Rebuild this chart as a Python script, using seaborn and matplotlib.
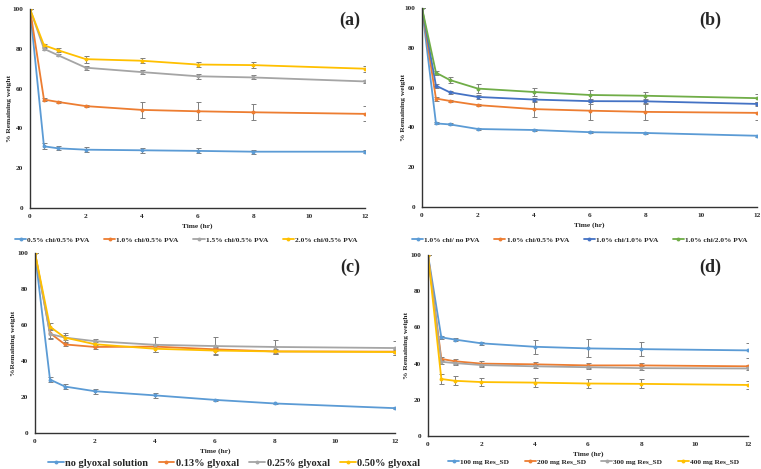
import pandas as pd
import matplotlib
matplotlib.use('Agg')
import matplotlib.pyplot as plt
import seaborn as sns
import numpy as np

sns.set_theme(style="white")
plt.rcParams['font.family'] = ['Liberation Serif', 'DejaVu Serif']
plt.rcParams['font.weight'] = 'bold'

# datos comunes
tiempos = [0, 0.5, 1, 2, 4, 6, 8, 12]

# PANEL (a)
etiquetas_a = ['0.5% chi/0.5% PVA', '1.0% chi/0.5% PVA', '1.5% chi/0.5% PVA', '2.0% chi/0.5% PVA']
valores_a = [
    [100, 31.0, 30.0, 29.3, 29.0, 28.7, 28.3, 28.3],
    [100, 54.5, 53.3, 51.2, 49.3, 48.6, 48.1, 47.3],
    [100, 80.0, 76.8, 70.5, 68.3, 66.2, 65.6, 63.6],
    [100, 81.8, 79.3, 74.8, 74.0, 72.1, 71.8, 70.0],
]
errores_a = [
    [0, 1.5, 1.0, 1.2, 1.2, 1.3, 1.0, 0.8],
    [0, 0.8, 0.5, 0.5, 4.2, 4.6, 4.0, 3.8],
    [0, 0.5, 0.5, 1.0, 1.0, 1.3, 1.0, 0.8],
    [0, 0.8, 1.0, 1.8, 1.2, 1.3, 1.5, 1.5],
]

# PANEL (b)
etiquetas_b = ['1.0% chi/ no PVA', '1.0% chi/0.5% PVA', '1.0% chi/1.0% PVA', '1.0% chi/2.0% PVA']
valores_b = [
    [100, 42.0, 41.5, 39.2, 38.7, 37.6, 37.2, 35.8],
    [100, 54.5, 53.3, 51.2, 49.2, 48.4, 47.8, 47.3],
    [100, 61.0, 57.6, 55.3, 54.0, 53.2, 53.1, 51.8],
    [100, 67.5, 63.8, 59.5, 57.8, 56.3, 55.9, 54.7],
]
errores_b = [
    [0, 0.5, 0.5, 0.5, 0.5, 0.5, 0.5, 0.5],
    [0, 1.0, 0.5, 0.5, 4.2, 4.6, 4.0, 3.8],
    [0, 1.0, 0.8, 0.8, 1.0, 1.2, 1.0, 1.0],
    [0, 1.0, 1.5, 2.2, 2.0, 2.3, 2.0, 2.0],
]

# PANEL (c)
etiquetas_c = ['no glyoxal solution', '0.13% glyoxal', '0.25% glyoxal', '0.50% glyoxal']
valores_c = [
    [100, 29.7, 25.8, 23.2, 20.9, 18.4, 16.4, 13.8],
    [100, 55.5, 49.2, 47.8, 48.0, 46.5, 45.3, 45.2],
    [100, 55.0, 53.0, 51.0, 49.0, 48.3, 47.8, 47.2],
    [100, 59.0, 53.0, 49.3, 46.8, 45.8, 45.3, 45.0],
]
errores_c = [
    [0, 1.2, 1.2, 1.3, 1.2, 0.6, 0.5, 0.5],
    [0, 2.8, 1.0, 1.0, 1.0, 1.0, 1.0, 1.0],
    [0, 3.0, 2.5, 1.5, 4.2, 4.8, 4.0, 3.8],
    [0, 2.0, 1.5, 1.5, 2.0, 2.0, 1.5, 1.5],
]

# PANEL (d)
etiquetas_d = ['100 mg Res_SD', '200 mg Res_SD', '300 mg Res_SD', '400 mg Res_SD']
valores_d = [
    [100, 54.5, 53.3, 51.2, 49.3, 48.4, 48.0, 47.3],
    [100, 42.6, 41.3, 40.0, 39.6, 39.0, 39.0, 38.5],
    [100, 41.0, 40.3, 39.2, 38.5, 38.0, 37.5, 37.3],
    [100, 31.5, 30.5, 29.8, 29.5, 29.0, 28.8, 28.2],
]
errores_d = [
    [0, 1.0, 1.0, 0.8, 4.0, 5.0, 4.0, 4.0],
    [0, 1.0, 1.5, 1.5, 1.2, 1.2, 1.2, 1.0],
    [0, 1.0, 1.0, 1.0, 1.0, 1.0, 1.0, 1.0],
    [0, 2.5, 2.5, 2.3, 2.3, 2.5, 2.5, 2.3],
]

colores_excel = ['#5B9BD5', '#ED7D31', '#A5A5A5', '#FFC000']
colores_b = ['#5B9BD5', '#ED7D31', '#4472C4', '#70AD47']

W, H = 761, 469


def dibujar_panel(fig, caja, etiquetas, valores, errores, colores, letra, ylabel,
                  pos_ylabel, pos_leyenda, tam_leyenda, sep_col, pos_letra):
    x0, x1, y_top, y_bot = caja
    ax = fig.add_axes([x0 / W, 1 - y_bot / H, (x1 - x0) / W, (y_bot - y_top) / H])
    filas = []
    for nombre, serie in zip(etiquetas, valores):
        for t, v in zip(tiempos, serie):
            filas.append({'Tiempo': t, 'Valor': v, 'Serie': nombre})
    df = pd.DataFrame(filas)

    for serie, err in zip(valores, errores):
        ax.errorbar(tiempos, serie, yerr=err, fmt='none', ecolor='#7f7f7f',
                    elinewidth=0.7, capsize=1.8, capthick=0.7, zorder=1)

    sns.lineplot(data=df, x='Tiempo', y='Valor', hue='Serie', hue_order=etiquetas,
                 palette=colores, marker='o', markersize=2.8, markeredgewidth=0,
                 linewidth=1.3, ax=ax, zorder=2)

    ax.set_xlim(0, 12)
    ax.set_ylim(0, 100)
    ax.set_xticks(range(0, 13, 2))
    ax.set_yticks(range(0, 101, 20))
    ax.tick_params(axis='y', length=0, labelsize=5.2, pad=5)
    ax.tick_params(axis='x', length=0, labelsize=5.2, pad=4.5)
    for lab in ax.get_xticklabels() + ax.get_yticklabels():
        lab.set_fontweight('bold')
    ax.set_xlabel('Time (hr)', fontsize=5.3, fontweight='bold', labelpad=3)
    ax.set_ylabel(ylabel, fontsize=5.4, fontweight='bold')
    ax.yaxis.set_label_coords((pos_ylabel - x0) / (x1 - x0), 0.5)
    for lado in ['top', 'right']:
        ax.spines[lado].set_visible(False)
    for lado in ['left', 'bottom']:
        ax.spines[lado].set_color('#333333')
        ax.spines[lado].set_linewidth(1.0)
    ax.grid(False)

    fig.text(pos_letra[0] / W, 1 - pos_letra[1] / H, letra,
             fontsize=13, fontweight='bold', ha='center', va='center')

    handles, labels = ax.get_legend_handles_labels()
    ax.get_legend().remove()
    fig.legend(handles, labels, loc='center left',
               bbox_to_anchor=(pos_leyenda[0] / W, 1 - pos_leyenda[1] / H),
               ncol=4, frameon=False, prop={'size': tam_leyenda, 'weight': 'bold'},
               handlelength=1.5, handletextpad=0.15, columnspacing=sep_col,
               borderaxespad=0, borderpad=0)
    return ax


fig = plt.figure(figsize=(W / 100, H / 100), dpi=100)

dibujar_panel(fig, (30, 365, 9, 208), etiquetas_a, valores_a, errores_a,
              colores_excel, '(a)', '% Remaining weight', 12,
              (15, 240), 5.3, 2.0, (350, 20))
dibujar_panel(fig, (422, 757, 8, 207), etiquetas_b, valores_b, errores_b,
              colores_b, '(b)', '% Remaining weight', 406,
              (412, 240), 5.3, 2.0, (710, 20))
dibujar_panel(fig, (35, 395, 253, 433), etiquetas_c, valores_c, errores_c,
              colores_excel, '(c)', '%Remaining weight', 16,
              (48, 463), 7.5, 1.0, (350, 267))
dibujar_panel(fig, (428, 748, 255, 436), etiquetas_d, valores_d, errores_d,
              colores_excel, '(d)', '% Remaining weight', 409,
              (448, 462), 5.3, 2.1, (710, 267))

plt.savefig('out.png', dpi=100)
plt.close()
